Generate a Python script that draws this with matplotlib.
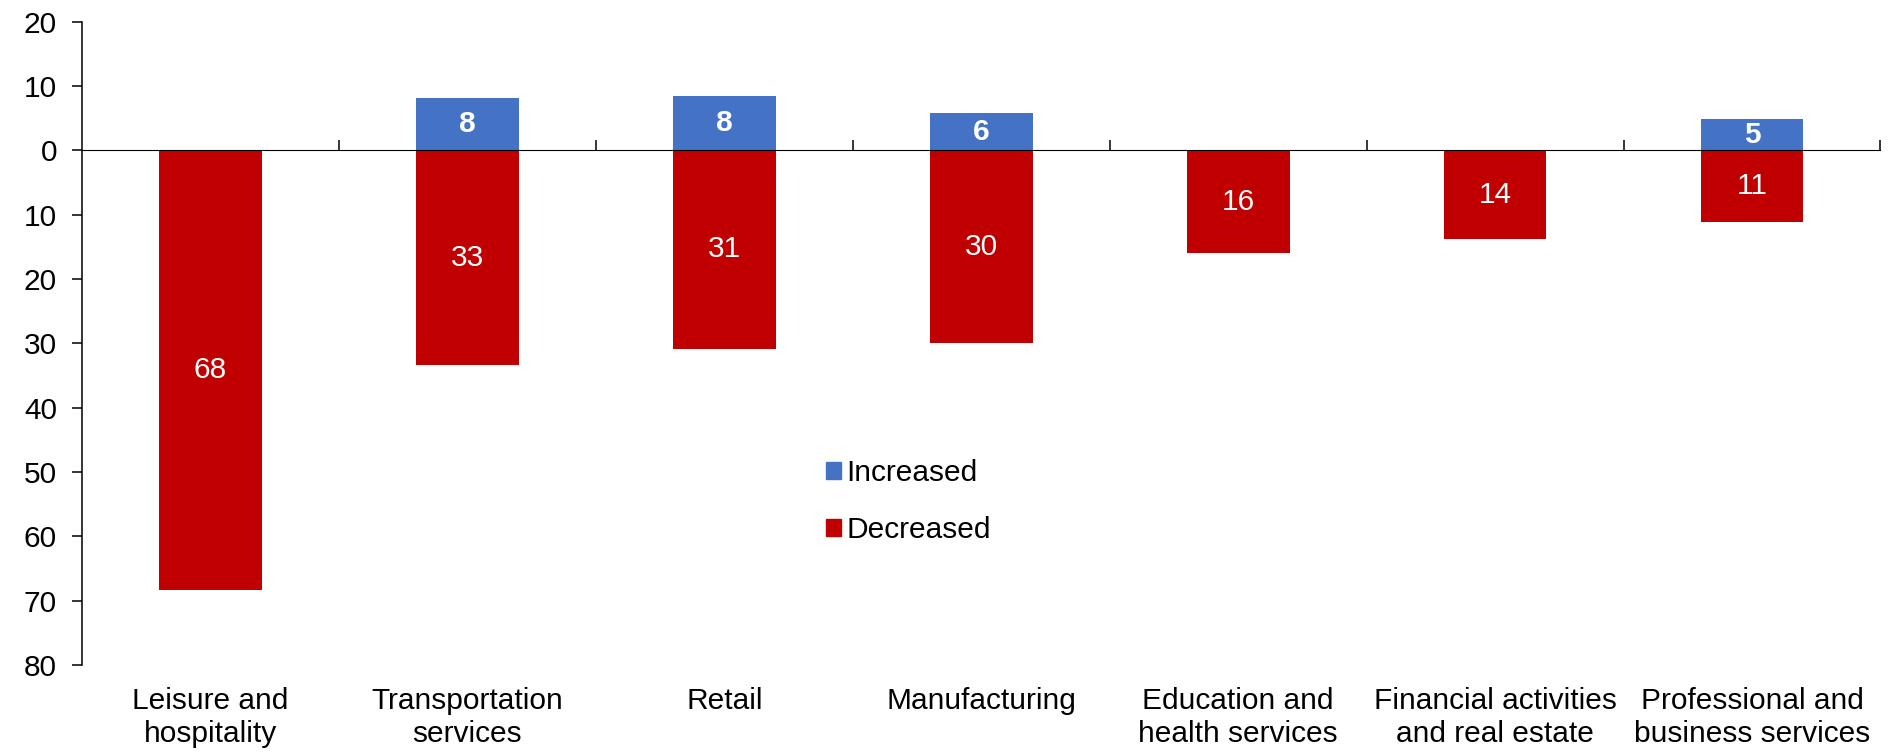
import numpy as np
import matplotlib
matplotlib.use("Agg")
import matplotlib.pyplot as plt
from matplotlib.patches import Patch
from matplotlib.ticker import FuncFormatter

plt.rcParams['font.family'] = ['Liberation Sans', 'DejaVu Sans']

categories = ["Leisure and\nhospitality", "Transportation\nservices", "Retail",
              "Manufacturing", "Education and\nhealth services",
              "Financial activities\nand real estate", "Professional and\nbusiness services"]
increased = [0, 8.1, 8.4, 5.8, 0, 0, 4.9]
decreased = [68.4, 33.4, 30.8, 30.0, 15.9, 13.8, 11.1]

blue = "#4472C4"
red = "#C00000"
fs = 21.5

fig = plt.figure(figsize=(18.88, 7.53), dpi=100)
ax = fig.add_axes([0.0434, 0.117, 0.9526, 0.854])

x = np.arange(len(categories))
w = 0.40
ax.bar(x, increased, w, color=blue, zorder=2)
ax.bar(x, -np.array(decreased), w, color=red, zorder=2)

for i in range(len(categories)):
    if increased[i] > 0:
        ax.text(x[i], increased[i] / 2, f"{increased[i]:.0f}", ha='center', va='center',
                color='white', fontsize=fs, fontweight='bold', zorder=3)
    ax.text(x[i], -decreased[i] / 2, f"{decreased[i]:.0f}", ha='center', va='center',
            color='white', fontsize=fs, zorder=3)

ylo, yhi = -80, 20
ax.set_ylim(ylo, yhi)
ax.set_xlim(-0.5, len(categories) - 0.5)
ax.set_yticks(np.arange(ylo, yhi + 1, 10))
ax.yaxis.set_major_formatter(FuncFormatter(lambda v, p: f"{abs(v):.0f}"))
ax.tick_params(axis='y', labelsize=fs, length=7, width=1.1, pad=11, colors='#000000')
ax.set_xticks(x)
ax.set_xticklabels(categories, fontsize=fs, linespacing=1.2)
ax.tick_params(axis='x', length=0, pad=16)

for s in ['top', 'right', 'bottom']:
    ax.spines[s].set_visible(False)
ax.spines['left'].set_linewidth(1.1)

# zero line with ticks between categories
zero = ax.secondary_xaxis((0 - ylo) / (yhi - ylo))
zero.set_xticks(np.arange(0.5, len(categories), 1.0))
zero.set_xticklabels([])
zero.tick_params(axis='x', direction='out', length=7, width=1.1)
zero.spines['bottom'].set_linewidth(1.1)
zero.set_zorder(4)

handles = [Patch(color=blue, label="Increased"), Patch(color=red, label="Decreased")]
fig.legend(handles=handles, loc='center left', bbox_to_anchor=(0.4295, 0.334),
           frameon=False, fontsize=fs, handlelength=0.5, handleheight=0.5,
           handletextpad=0.2, labelspacing=0.95, borderpad=0)

fig.savefig("out.png", dpi=100)
